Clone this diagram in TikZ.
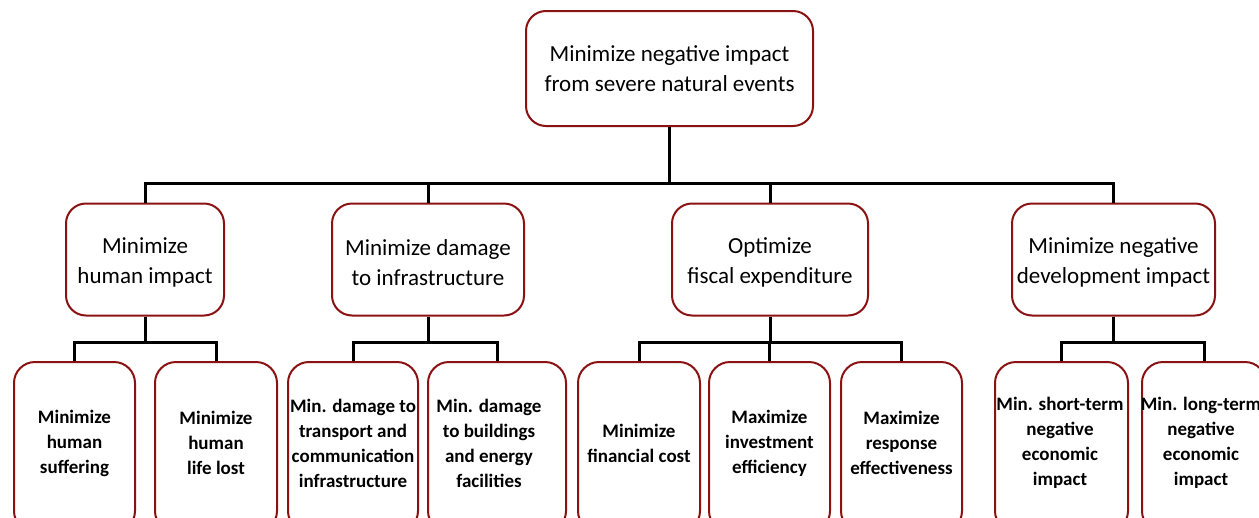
\documentclass[tikz,border=0pt]{standalone}
\usepackage{fontspec}
\setmainfont{Carlito}
\definecolor{boxred}{RGB}{139,18,18}
\tikzset{
  x=1pt, y=-1pt,
  topbox/.style={draw=boxred, line width=2pt, rounded corners=20pt, fill=white,
    align=center, inner sep=0pt, font=\fontsize{23}{30}\selectfont},
  midtext/.style={align=center, inner sep=0pt, font=\fontsize{23}{30}\selectfont},
  leafbox/.style={draw=boxred, line width=2pt, rounded corners=21pt, fill=white, inner sep=0pt},
  leaftext/.style={align=center, inner sep=0pt, font=\bfseries\fontsize{19}{25}\selectfont},
  conn/.style={line width=3pt, black, line join=miter},
}
\begin{document}
\begin{tikzpicture}
\useasboundingbox (0,0) rectangle (1259,517);
\clip (0,0) rectangle (1259,517);
% top node
\node[topbox, minimum width=287, minimum height=115] (top) at (669.5,68.5)
  {Minimize negative impact\\from severe natural events};
% level 2 boxes
\node[topbox, minimum width=158, minimum height=112] (a) at (145,259.5) {};
\node[topbox, minimum width=192, minimum height=112] (b) at (428,259.5) {};
\node[topbox, minimum width=196, minimum height=112] (c) at (770,259.5) {};
\node[topbox, minimum width=203, minimum height=112] (d) at (1113.5,259.5) {};
% level 2 texts
\node[midtext] (at) at (145,262.5) {Minimize\\human impact};
\node[midtext] (bt) at (428,262.5) {Minimize damage\\to infrastructure};
\node[midtext] (ct) at (770,262.5) {Optimize\\fiscal expenditure};
\node[midtext] (dt) at (1113.5,262.5) {Minimize negative\\development impact};
% level 3 boxes (extend past bottom edge)
\node[leafbox, minimum width=121, minimum height=170] (a1) at (74.5,447) {};
\node[leafbox, minimum width=122, minimum height=170] (a2) at (216,447) {};
\node[leafbox, minimum width=130, minimum height=170] (b1) at (353,447) {};
\node[leafbox, minimum width=138, minimum height=170] (b2) at (497,447) {};
\node[leafbox, minimum width=122, minimum height=170] (c1) at (639,447) {};
\node[leafbox, minimum width=121, minimum height=170] (c2) at (769.5,447) {};
\node[leafbox, minimum width=121, minimum height=170] (c3) at (901.5,447) {};
\node[leafbox, minimum width=133, minimum height=170] (d1) at (1061.5,447) {};
\node[leafbox, minimum width=124, minimum height=170] (d2) at (1204,447) {};
% level 3 texts
\node[leaftext] (a1t) at (74.5,443) {Minimize\\human\\suffering};
\node[leaftext] (a2t) at (216,443) {Minimize\\human\\life lost};
\node[leaftext] (b1t) at (353,443) {Min. damage to\\transport and\\communication\\infrastructure};
\node[leaftext] (b2t) at (489,443) {Min. damage\\to buildings\\and energy\\facilities};
\node[leaftext] (c1t) at (639,443) {Minimize\\financial cost};
\node[leaftext] (c2t) at (769.5,443) {Maximize\\investment\\efficiency};
\node[leaftext] (c3t) at (901.5,443) {Maximize\\response\\effectiveness};
\node[leaftext] (d1t) at (1060,443) {Min. short-term\\negative\\economic\\impact};
\node[leaftext] (d2t) at (1201,443) {Min. long-term\\negative\\economic\\impact};
% connectors
\coordinate (j0) at (669.5,183);
\draw[conn] (top.south) -- (j0);
\draw[conn] (a.north) |- (j0) -| (d.north);
\draw[conn] (b.north) -- (b.north |- j0);
\draw[conn] (c.north) -- (c.north |- j0);
\coordinate (ja) at (145,342);
\draw[conn] (a.south) -- (ja);
\draw[conn] (a1.north) |- (ja) -| (a2.north);
\coordinate (jb) at (428,342);
\draw[conn] (b.south) -- (jb);
\draw[conn] (b1.north) |- (jb) -| (b2.north);
\coordinate (jc) at (770,342);
\draw[conn] (c.south) -- (jc);
\draw[conn] (c1.north) |- (jc) -| (c3.north);
\draw[conn] (c2.north) -- (c2.north |- jc);
\coordinate (jd) at (1113.5,342);
\draw[conn] (d.south) -- (jd);
\draw[conn] (d1.north) |- (jd) -| (d2.north);
\end{tikzpicture}
\end{document}
